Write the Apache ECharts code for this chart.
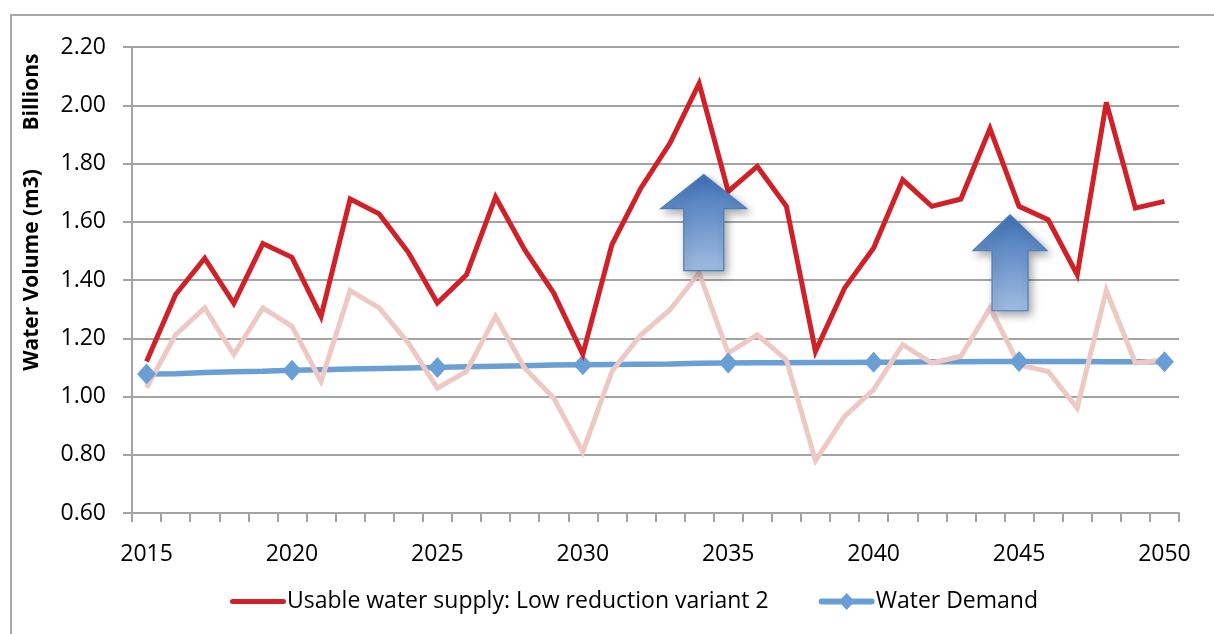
<!DOCTYPE html>
<html>
<head>
<meta charset="utf-8">
<title>Water supply and demand</title>
<script src="https://cdn.jsdelivr.net/npm/echarts@6/dist/echarts.min.js"></script>
<style>
  html, body { margin: 0; padding: 0; background: #ffffff; }
  #chart { width: 1214px; height: 634px; }
</style>
</head>
<body>
<div id="chart"></div>
<script>
// Years on the category axis
const years = ['2015','2016','2017','2018','2019','2020','2021','2022','2023','2024',
               '2025','2026','2027','2028','2029','2030','2031','2032','2033','2034',
               '2035','2036','2037','2038','2039','2040','2041','2042','2043','2044',
               '2045','2046','2047','2048','2049','2050'];

// Years that carry an axis label and a demand marker
const labelledYears = ['2015','2020','2025','2030','2035','2040','2045','2050'];

// Usable water supply, low reduction variant 2 (billions of m3)
const usableSupplyLow2 = [1.12, 1.35, 1.475, 1.32, 1.525, 1.478, 1.275, 1.678, 1.627, 1.495,
                          1.321, 1.418, 1.685, 1.504, 1.355, 1.145, 1.521, 1.716, 1.87, 2.075,
                          1.704, 1.79, 1.653, 1.155, 1.372, 1.51, 1.744, 1.653, 1.678, 1.92,
                          1.653, 1.607, 1.418, 2.01, 1.647, 1.67];

// Usable water supply without the reduction measures (billions of m3)
const usableSupplyBase = [1.03, 1.212, 1.304, 1.144, 1.304, 1.241, 1.052, 1.364, 1.304, 1.184,
                          1.029, 1.086, 1.275, 1.098, 0.995, 0.81, 1.086, 1.212, 1.298, 1.424,
                          1.149, 1.212, 1.126, 0.78, 0.932, 1.024, 1.178, 1.115, 1.138, 1.304,
                          1.109, 1.086, 0.961, 1.364, 1.115, 1.126];

// Water demand (billions of m3)
const waterDemand = [1.077, 1.078, 1.082, 1.085, 1.087, 1.090, 1.092, 1.094, 1.096, 1.098,
                     1.100, 1.102, 1.104, 1.106, 1.108, 1.109, 1.110, 1.111, 1.112, 1.114,
                     1.115, 1.116, 1.116, 1.117, 1.117, 1.118, 1.118, 1.119, 1.119, 1.120,
                     1.120, 1.120, 1.120, 1.119, 1.119, 1.119];

// Value axis range
const yMin = 0.6, yMax = 2.2, yStep = 0.2;

// Upward arrows marking the gain in supply: tip at (year, value)
const arrowTips = [
  { year: 2034.16, value: 1.762, headHalf: 43, headH: 34, shaftHalf: 20, len: 96 },
  { year: 2044.69, value: 1.624, headHalf: 37, headH: 36, shaftHalf: 18, len: 96 }
];

const FONT = "'Open Sans', 'Liberation Sans', sans-serif";
const GRID_GREY = '#a3a3a3';
const RED = '#d12128';
const PINK = '#eec9c4';
const BLUE = '#6a9fd6';

const SUPPLY_NAME = 'Usable water supply: Low reduction variant 2';
const DEMAND_NAME = 'Water Demand';

// Legend swatches; the zero-length corner segments keep each icon box at 56x18
const LINE_ICON = 'path://M0,0L0,0ZM2.5,6.5L53.5,6.5A2.5,2.5,0,0,1,53.5,11.5L2.5,11.5A2.5,2.5,0,0,1,2.5,6.5ZM56,18L56,18Z';
const LINE_DIAMOND_ICON = 'path://M0,0L0,0ZM3,6L53,6A3,3,0,0,1,53,12L3,12A3,3,0,0,1,3,6ZM28,0.5L36,9L28,17.5L20,9ZM56,18L56,18Z';

const chart = echarts.init(document.getElementById('chart'), null, { renderer: 'canvas' });

const demandData = waterDemand.map((v, i) =>
  labelledYears.includes(years[i]) ? v : { value: v, symbol: 'none' });

chart.setOption({
  animation: false,
  backgroundColor: '#ffffff',
  textStyle: { fontFamily: FONT },
  grid: { left: 132, right: 35, top: 47, height: 466, containLabel: false },
  legend: {
    data: [
      { name: SUPPLY_NAME, icon: LINE_ICON },
      { name: DEMAND_NAME, icon: LINE_DIAMOND_ICON }
    ],
    left: 225,
    top: 585,
    itemWidth: 56,
    itemHeight: 18,
    itemGap: 50,
    symbolKeepAspect: false,
    textStyle: { fontFamily: FONT, fontSize: 23, color: '#000000', padding: [0, 0, 0, -4] }
  },
  xAxis: {
    type: 'category',
    data: years,
    boundaryGap: true,
    axisLine: { lineStyle: { color: GRID_GREY, width: 2 } },
    axisTick: { show: true, length: 9, interval: 0, lineStyle: { color: GRID_GREY, width: 2 } },
    axisLabel: {
      interval: (idx, val) => labelledYears.includes(val),
      margin: 30,
      fontFamily: FONT,
      fontSize: 23,
      color: '#000000'
    },
    splitLine: { show: false }
  },
  yAxis: {
    type: 'value',
    min: yMin,
    max: yMax,
    interval: yStep,
    axisLine: { show: true, lineStyle: { color: GRID_GREY, width: 2 } },
    axisTick: { show: true, length: 9, lineStyle: { color: GRID_GREY, width: 2 } },
    axisLabel: {
      formatter: v => v.toFixed(2),
      margin: 26,
      fontFamily: FONT,
      fontSize: 23,
      color: '#000000'
    },
    splitLine: { show: true, lineStyle: { color: GRID_GREY, width: 2 } }
  },
  series: [
    {
      name: DEMAND_NAME,
      type: 'line',
      data: demandData,
      symbol: 'diamond',
      symbolSize: [19, 21],
      showAllSymbol: true,
      itemStyle: { color: BLUE },
      lineStyle: { color: BLUE, width: 5.5 },
      z: 2
    },
    {
      name: 'Usable water supply: baseline',
      type: 'line',
      data: usableSupplyBase,
      symbol: 'none',
      lineStyle: { color: PINK, width: 5, join: 'miter', miterLimit: 4 },
      itemStyle: { color: PINK },
      z: 2
    },
    {
      name: SUPPLY_NAME,
      type: 'line',
      data: usableSupplyLow2,
      symbol: 'none',
      lineStyle: { color: RED, width: 5, join: 'miter', miterLimit: 4 },
      itemStyle: { color: RED },
      z: 3
    }
  ]
});

// Pixel position of a fractional year on the category axis
function yearToPixel(year, value) {
  const idx = year - Number(years[0]);
  const i0 = Math.floor(idx);
  const p0 = chart.convertToPixel({ gridIndex: 0 }, [i0, value]);
  const p1 = chart.convertToPixel({ gridIndex: 0 }, [i0 + 1, value]);
  return [p0[0] + (p1[0] - p0[0]) * (idx - i0), p0[1]];
}

const arrowGraphics = arrowTips.map((a, k) => {
  const [tx, ty] = yearToPixel(a.year, a.value);
  const baseY = ty + a.headH;
  const bottom = ty + a.len;
  return {
    type: 'polygon',
    id: 'arrow' + k,
    z: 10,
    shape: {
      points: [
        [tx, ty],
        [tx + a.headHalf, baseY],
        [tx + a.shaftHalf, baseY],
        [tx + a.shaftHalf, bottom],
        [tx - a.shaftHalf, bottom],
        [tx - a.shaftHalf, baseY],
        [tx - a.headHalf, baseY]
      ]
    },
    style: {
      fill: new echarts.graphic.LinearGradient(0, 0, 0, 1, [
        { offset: 0, color: '#3f72b8' },
        { offset: 1, color: '#a0bbe0' }
      ]),
      stroke: '#4a7ebb',
      lineWidth: 1.2,
      shadowColor: 'rgba(0,0,0,0.35)',
      shadowBlur: 9,
      shadowOffsetX: 3,
      shadowOffsetY: 4
    }
  };
});

chart.setOption({
  graphic: [
    {
      type: 'rect',
      id: 'frame',
      z: 0,
      shape: { x: 11, y: 15, width: 1240, height: 660 },
      style: { fill: null, stroke: '#a8a8a8', lineWidth: 2 }
    },
    {
      type: 'text',
      id: 'unitLabel',
      x: 32,
      y: 92,
      rotation: Math.PI / 2,
      style: {
        text: 'Billions',
        font: "bold 21px 'Open Sans', 'Liberation Sans', sans-serif",
        fill: '#000000',
        align: 'center',
        verticalAlign: 'middle'
      }
    },
    {
      type: 'text',
      id: 'axisTitle',
      x: 32,
      y: 270,
      rotation: Math.PI / 2,
      style: {
        text: 'Water Volume (m3)',
        font: "bold 21px 'Open Sans', 'Liberation Sans', sans-serif",
        fill: '#000000',
        align: 'center',
        verticalAlign: 'middle'
      }
    }
  ].concat(arrowGraphics)
});
</script>
</body>
</html>
